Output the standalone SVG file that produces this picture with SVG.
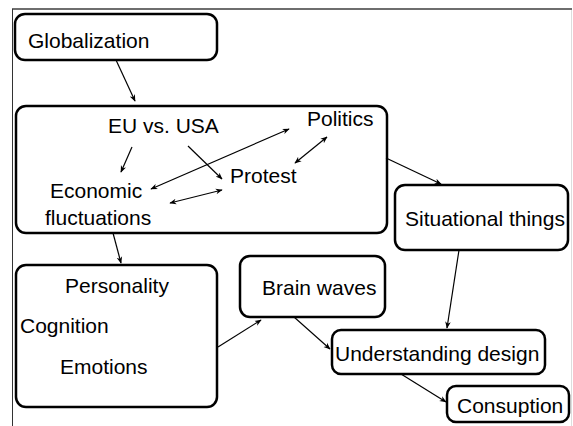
<svg xmlns="http://www.w3.org/2000/svg" width="573" height="426" viewBox="0 0 573 426">
  <style>
    .box { fill: #ffffff; stroke: #000000; stroke-width: 2.5; }
    .lbl { font-family: "Liberation Sans", Arial, sans-serif; font-size: 21px; fill: #000000; }
    .edge { stroke: #000000; stroke-width: 1.2; fill: none; marker-end: url(#head); }
    .both { marker-start: url(#tail); }
  </style>
  <defs>
    <marker id="head" viewBox="0 0 10 10" refX="9" refY="5" markerWidth="7" markerHeight="7" orient="auto" markerUnits="userSpaceOnUse">
      <path d="M0,1 L10,5 L0,9 L3,5 Z" fill="#000000"/>
    </marker>
    <marker id="tail" viewBox="0 0 10 10" refX="1" refY="5" markerWidth="7" markerHeight="7" orient="auto" markerUnits="userSpaceOnUse">
      <path d="M10,1 L0,5 L10,9 L7,5 Z" fill="#000000"/>
    </marker>
  </defs>
  <rect width="573" height="426" fill="#ffffff"/>

  <!-- page frame -->
  <g id="frame">
    <line x1="12" y1="9" x2="572" y2="9" stroke="#6e6e6e" stroke-width="2"/>
    <line x1="12.5" y1="9" x2="12.5" y2="426" stroke="#333333" stroke-width="1"/>
    <line x1="571.5" y1="10" x2="571.5" y2="426" stroke="#dddddd" stroke-width="1"/>
  </g>

  <g id="globalization">
    <rect class="box" x="15" y="14" width="202" height="46" rx="10"/>
    <text class="lbl" x="28" y="48">Globalization</text>
  </g>

  <g id="context">
    <rect class="box" x="16" y="106" width="371" height="127" rx="10"/>
    <text class="lbl" x="108" y="133">EU vs. USA</text>
    <text class="lbl" x="307" y="126">Politics</text>
    <text class="lbl" x="230" y="183">Protest</text>
    <text class="lbl" x="50" y="198">Economic</text>
    <text class="lbl" x="45" y="225">fluctuations</text>
  </g>

  <g id="situational">
    <rect class="box" x="395" y="185" width="173" height="65" rx="10"/>
    <text class="lbl" x="405" y="226">Situational things</text>
  </g>

  <g id="person">
    <rect class="box" x="16" y="265" width="201" height="142" rx="10"/>
    <text class="lbl" x="65" y="293">Personality</text>
    <text class="lbl" x="20" y="333">Cognition</text>
    <text class="lbl" x="60" y="374">Emotions</text>
  </g>

  <g id="brain">
    <rect class="box" x="240" y="256" width="145" height="61" rx="10"/>
    <text class="lbl" x="262" y="295">Brain waves</text>
  </g>

  <g id="understanding">
    <rect class="box" x="332" y="330" width="213" height="44" rx="9"/>
    <text class="lbl" x="335" y="361">Understanding design</text>
  </g>

  <g id="consumption">
    <rect class="box" x="447" y="386" width="122" height="36" rx="9"/>
    <text class="lbl" x="457" y="413">Consuption</text>
  </g>

  <g id="connectors">
    <line class="edge" x1="116" y1="60" x2="135" y2="101"/>
    <line class="edge" x1="132" y1="147" x2="121" y2="172"/>
    <line class="edge" x1="188" y1="146" x2="222" y2="179"/>
    <line class="edge both" x1="151" y1="189" x2="289" y2="129"/>
    <line class="edge both" x1="295" y1="163" x2="327" y2="137"/>
    <line class="edge both" x1="170" y1="203" x2="222" y2="190"/>
    <line class="edge" x1="113" y1="233" x2="121" y2="263"/>
    <line class="edge" x1="386" y1="158" x2="441" y2="184"/>
    <line class="edge" x1="459" y1="250" x2="447" y2="328"/>
    <line class="edge" x1="218" y1="347" x2="261" y2="320"/>
    <line class="edge" x1="294" y1="317" x2="330" y2="349"/>
    <line class="edge" x1="401" y1="374" x2="446" y2="402"/>
  </g>
</svg>
